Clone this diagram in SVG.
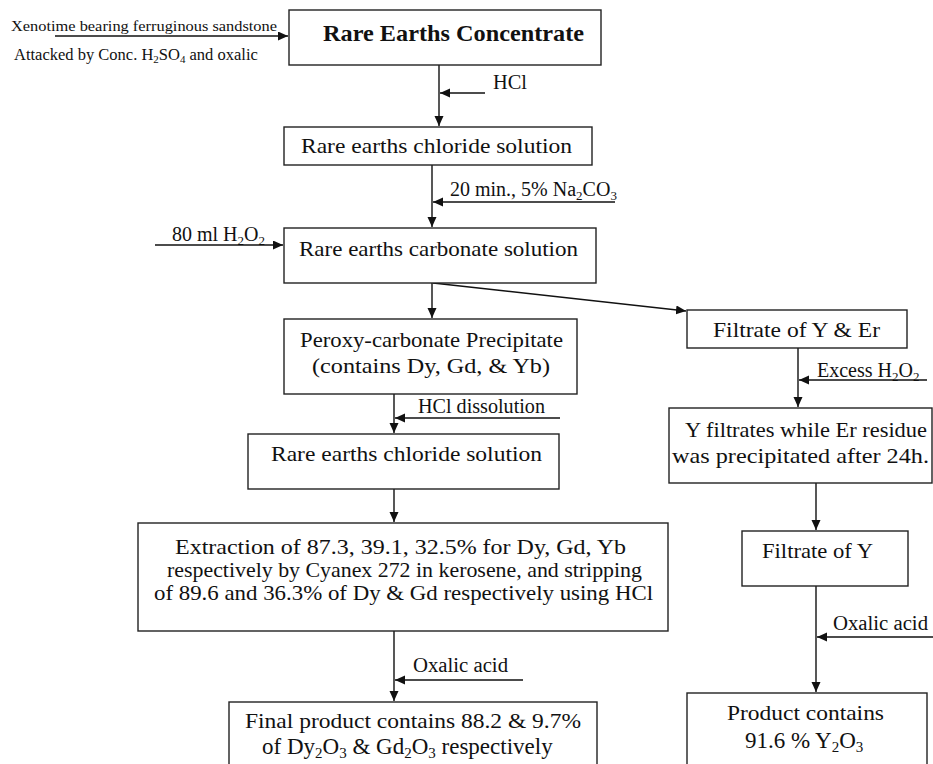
<svg xmlns="http://www.w3.org/2000/svg" width="933" height="764" viewBox="0 0 933 764" font-family="'Liberation Serif', 'Times New Roman', serif">
<defs>
<marker id="ah" markerUnits="userSpaceOnUse" markerWidth="11" markerHeight="10" refX="10" refY="4.5" orient="auto">
<path d="M0,0 L10,4.5 L0,9 z" fill="#111"/>
</marker>
<style>
text{font-family:"Liberation Serif","Times New Roman",serif;fill:#111}
.box{fill:#fff;stroke:#222;stroke-width:1.4}
.t{font-size:21.5px}
.t2{font-size:23px}
.lb{font-size:20px}
.sm{font-size:15px}
.sm2{font-size:16.5px}
.ttl{font-size:24px;font-weight:bold}
.c{fill:none;stroke:#111;stroke-width:1.4;marker-end:url(#ah)}
</style>
</defs>
<rect width="933" height="764" fill="#fff"/>

<g id="connectors">
<path class="c" d="M55,36 H288"/>
<path class="c" d="M439,65 V126"/>
<path class="c" d="M485,93 H440"/>
<path class="c" d="M432,165 V227"/>
<path class="c" d="M615,202 H433"/>
<path class="c" d="M155,245 H283"/>
<path class="c" d="M432,283 V318"/>
<path class="c" d="M433,283 L686,311"/>
<path class="c" d="M394,394 V433"/>
<path class="c" d="M560,418 H395"/>
<path class="c" d="M394,489 V522"/>
<path class="c" d="M394,631 V701"/>
<path class="c" d="M523,680 H395"/>
<path class="c" d="M798,348 V407"/>
<path class="c" d="M927,380 H799"/>
<path class="c" d="M816,483 V530"/>
<path class="c" d="M816,586 V692"/>
<path class="c" d="M933,637 H817"/>
</g>

<g id="labels">
<text class="sm" x="11" y="31" textLength="266" lengthAdjust="spacingAndGlyphs">Xenotime bearing ferruginous  sandstone</text>
<text class="sm2" x="14" y="60">Attacked by Conc. H<tspan font-size="11" dy="3">2</tspan><tspan dy="-3">SO</tspan><tspan font-size="11" dy="3">4</tspan><tspan dy="-3"> and oxalic</tspan></text>
<text class="lb" x="493" y="89" textLength="34" lengthAdjust="spacingAndGlyphs">HCl</text>
<text class="lb" x="450" y="196">20 min., 5% Na<tspan font-size="13" dy="4">2</tspan><tspan dy="-4">CO</tspan><tspan font-size="13" dy="4">3</tspan></text>
<text class="lb" x="172" y="241">80 ml H<tspan font-size="13" dy="4">2</tspan><tspan dy="-4">O</tspan><tspan font-size="13" dy="4">2</tspan></text>
<text class="lb" x="817" y="377">Excess H<tspan font-size="13" dy="4">2</tspan><tspan dy="-4">O</tspan><tspan font-size="13" dy="4">2</tspan></text>
<text class="lb" x="418" y="413" textLength="127" lengthAdjust="spacingAndGlyphs">HCl dissolution</text>
<text class="lb" x="413" y="672" textLength="95" lengthAdjust="spacingAndGlyphs">Oxalic acid</text>
<text class="lb" x="833" y="630" textLength="95" lengthAdjust="spacingAndGlyphs">Oxalic acid</text>
</g>

<g id="n1">
<rect class="box" x="289" y="10" width="312" height="55"/>
<text class="ttl" x="323" y="41" textLength="261" lengthAdjust="spacingAndGlyphs">Rare Earths Concentrate</text>
</g>
<g id="n2">
<rect class="box" x="284" y="127" width="308" height="38"/>
<text class="t" x="301" y="153" textLength="271" lengthAdjust="spacingAndGlyphs">Rare earths chloride solution</text>
</g>
<g id="n3">
<rect class="box" x="284" y="228" width="312" height="55"/>
<text class="t" x="299" y="256" textLength="279" lengthAdjust="spacingAndGlyphs">Rare earths carbonate solution</text>
</g>
<g id="n4">
<rect class="box" x="284" y="319" width="293" height="75"/>
<text class="t" x="300" y="347" textLength="263" lengthAdjust="spacingAndGlyphs">Peroxy-carbonate Precipitate</text>
<text class="t" x="312" y="373" textLength="238" lengthAdjust="spacingAndGlyphs">(contains Dy, Gd, &amp; Yb)</text>
</g>
<g id="n5">
<rect class="box" x="248" y="434" width="311" height="55"/>
<text class="t" x="271" y="461" textLength="271" lengthAdjust="spacingAndGlyphs">Rare earths chloride solution</text>
</g>
<g id="n6">
<rect class="box" x="138" y="523" width="530" height="108"/>
<text class="t" x="175" y="554" textLength="451" lengthAdjust="spacingAndGlyphs">Extraction of 87.3, 39.1, 32.5% for Dy, Gd, Yb</text>
<text class="t" x="167" y="577" textLength="475" lengthAdjust="spacingAndGlyphs">respectively by Cyanex 272 in kerosene, and stripping</text>
<text class="t" x="154" y="600" textLength="499" lengthAdjust="spacingAndGlyphs">of 89.6 and 36.3% of Dy &amp; Gd respectively using HCl</text>
</g>
<g id="n7">
<rect class="box" x="229" y="702" width="368" height="80"/>
<text class="t" x="245" y="728" textLength="336" lengthAdjust="spacingAndGlyphs">Final product contains 88.2 &amp; 9.7%</text>
<text class="t2" x="262" y="754">of Dy<tspan font-size="15" dy="4">2</tspan><tspan dy="-4">O</tspan><tspan font-size="15" dy="4">3</tspan><tspan dy="-4"> &amp; Gd</tspan><tspan font-size="15" dy="4">2</tspan><tspan dy="-4">O</tspan><tspan font-size="15" dy="4">3</tspan><tspan dy="-4"> respectively</tspan></text>
</g>
<g id="n8">
<rect class="box" x="687" y="310" width="220" height="38"/>
<text class="t" x="713" y="337" textLength="167" lengthAdjust="spacingAndGlyphs">Filtrate of Y &amp; Er</text>
</g>
<g id="n9">
<rect class="box" x="669" y="408" width="263" height="75"/>
<text class="t" x="685" y="437" textLength="242" lengthAdjust="spacingAndGlyphs">Y filtrates while Er residue</text>
<text class="t" x="672" y="463" textLength="257" lengthAdjust="spacingAndGlyphs">was precipitated after 24h.</text>
</g>
<g id="n10">
<rect class="box" x="742" y="531" width="166" height="55"/>
<text class="t" x="762" y="558" textLength="111" lengthAdjust="spacingAndGlyphs">Filtrate of Y</text>
</g>
<g id="n11">
<rect class="box" x="687" y="693" width="240" height="80"/>
<text class="t" x="727" y="720" textLength="157" lengthAdjust="spacingAndGlyphs">Product contains</text>
<text class="t2" x="745" y="748">91.6 % Y<tspan font-size="15" dy="4">2</tspan><tspan dy="-4">O</tspan><tspan font-size="15" dy="4">3</tspan></text>
</g>
</svg>
